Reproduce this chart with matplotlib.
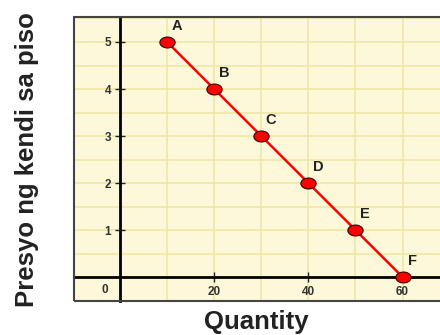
import matplotlib.pyplot as plt
from matplotlib.patches import Rectangle
import numpy as np

# demand schedule points
labels = ["A", "B", "C", "D", "E", "F"]
quantity = [10, 20, 30, 40, 50, 60]
price = [5, 4, 3, 2, 1, 0]

xticks = [20, 40, 60]
yticks = [1, 2, 3, 4, 5]

plt.rcParams['font.family'] = ['Liberation Sans', 'DejaVu Sans']

fig = plt.figure(figsize=(4.4, 3.35), dpi=100)
ax = fig.add_axes([0.168, 0.1015, 0.84, 0.8475])
ax.set_facecolor("#fcf8d9")
ax.set_xlim(-9.8, 68.7)
ax.set_ylim(-0.51, 5.53)

# grid: every 10 on x, every 0.5 on y
ax.set_xticks(np.arange(0, 70, 10), minor=True)
ax.set_yticks(np.arange(0, 5.6, 0.5), minor=True)
ax.grid(which="both", color="#efe7a6", lw=1.2)
ax.tick_params(which="minor", length=0)
ax.set_axisbelow(True)

# axes through zero
ax.spines["left"].set_position(("data", 0))
ax.spines["bottom"].set_position(("data", 0))
ax.spines["left"].set_linewidth(2)
ax.spines["bottom"].set_linewidth(2)
ax.spines["top"].set_visible(False)
ax.spines["right"].set_visible(False)
ax.set_xticks(xticks)
ax.set_yticks(yticks)
ax.tick_params(direction="inout", length=7, width=1, labelsize=8.5,
               colors="#222222", pad=3)
for t in ax.get_xticklabels() + ax.get_yticklabels():
    t.set_fontweight("bold")
    t.set_color("#333333")
ax.text(-3.2, -0.28, "0", fontsize=8.5, fontweight="bold", color="#333333",
        ha="center", va="center")

# border box
ax.add_patch(Rectangle((0, 0), 1, 1, transform=ax.transAxes, fill=False,
                       ec="#444444", lw=1.5, clip_on=False, zorder=5))

# ellipse marker
t = np.linspace(0, 2 * np.pi, 40)
ell = np.column_stack([1.4 * np.cos(t), np.sin(t)])
ax.plot(quantity, price, color="#ff0000", lw=1.8, zorder=3)
ax.plot(quantity, price, ls="none", marker=ell, ms=11, mfc="#ff0000",
        mec="#330000", mew=0.8, zorder=4, clip_on=False)

for lab, x, y in zip(labels, quantity, price):
    ax.annotate(lab, (x, y), xytext=(7, 11.5), textcoords="offset points",
                ha="center", va="center", fontsize=10.5, fontweight="bold",
                color="#222222")

fig.text(0.062, 0.525, "Presyo ng kendi sa piso", rotation=90, fontsize=18.5,
         fontweight="bold", ha="center", va="center", color="#222222")
fig.text(0.582, 0.039, "Quantity", fontsize=18.5, fontweight="bold",
         ha="center", va="center", color="#222222")

fig.savefig("out.png", dpi=100)
